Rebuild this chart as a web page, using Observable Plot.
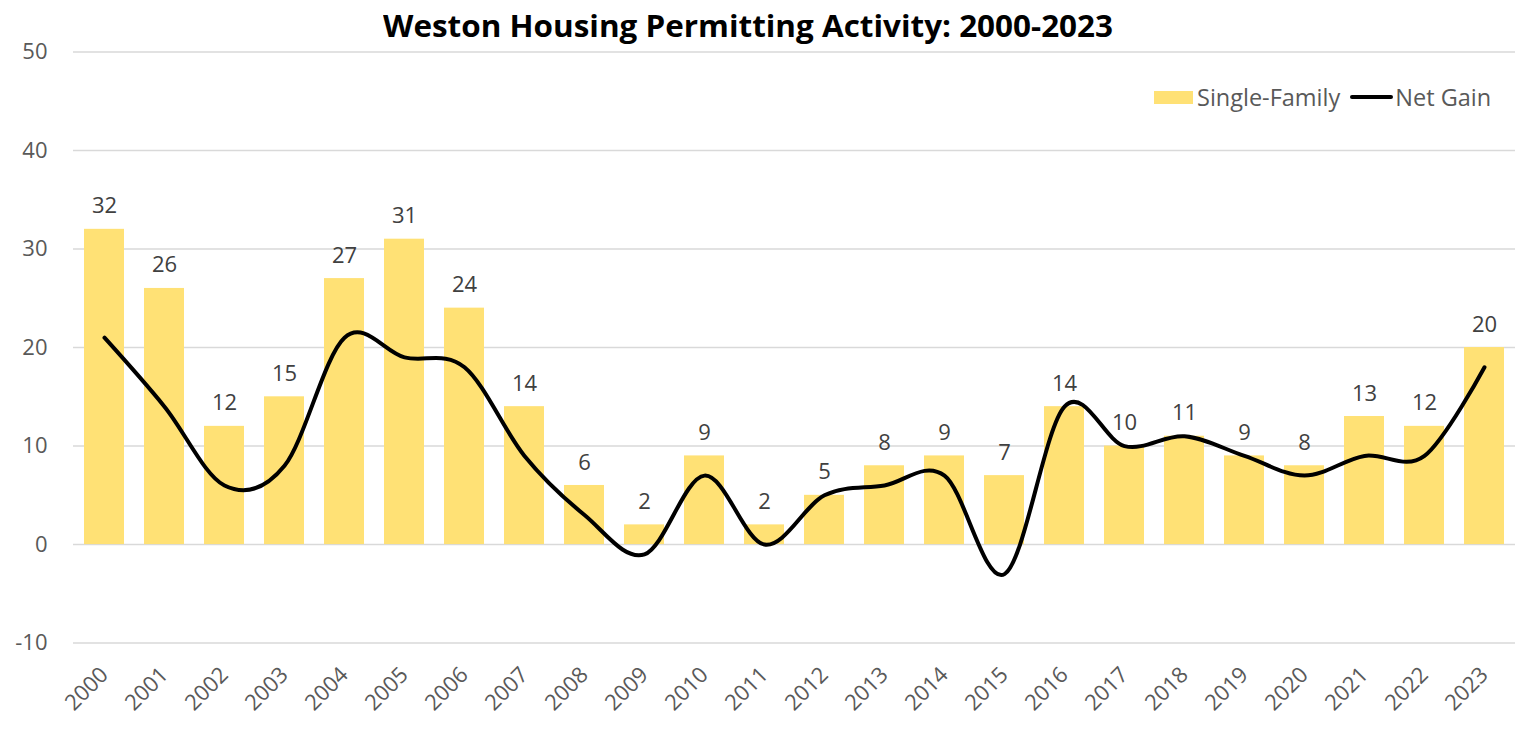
<!DOCTYPE html>
<html>
<head>
<meta charset="utf-8">
<script src="https://cdn.jsdelivr.net/npm/d3@7"></script>
<script src="https://cdn.jsdelivr.net/npm/@observablehq/plot@0.6"></script>
<style>
  html, body { margin: 0; padding: 0; background: #fff; }
  #wrap { position: relative; width: 1524px; height: 729px; font-family: "Open Sans", sans-serif; }
  #title { position: absolute; left: 0; top: 5px; width: 1496px; text-align: center; font-weight: 700; font-size: 31px; line-height: 40px; color: #000; white-space: nowrap; }
  #title span { display: inline-block; transform-origin: 50% 50%; }
  #legend { position: absolute; top: 83px; left: 1154px; height: 28px; display: flex; align-items: center; font-size: 23.5px; color: #595959; white-space: nowrap; }
  .sw { display: inline-block; width: 39px; height: 13px; background: #FFE175; margin-right: 4px; }
  .ln { display: inline-block; width: 43px; height: 4px; background: #000; border-radius: 2px; margin-left: 10px; margin-right: 2px; }
</style>
</head>
<body>
<div id="wrap">
  <div id="chart"></div>
  <div id="title"><span>Weston Housing Permitting Activity: 2000-2023</span></div>
  <div id="legend"><span class="sw"></span><span>Single-Family</span><span class="ln"></span><span>Net Gain</span></div>
</div>
<script>
const years = ["2000","2001","2002","2003","2004","2005","2006","2007","2008","2009","2010","2011","2012","2013","2014","2015","2016","2017","2018","2019","2020","2021","2022","2023"];
const singleFamily = [32,26,12,15,27,31,24,14,6,2,9,2,5,8,9,7,14,10,11,9,8,13,12,20];
const netGain = [21,14,6,8,21,19,18,9,3,-1,7,0,5,6,7,-3,14,10,11,9,7,9,9,18];
const yTicks = [-10,0,10,20,30,40,50];

const data = years.map((y, i) => ({year: y, sf: singleFamily[i], net: netGain[i]}));

const chart = Plot.plot({
  width: 1524,
  height: 729,
  marginTop: 51.5,
  marginBottom: 86.4,
  marginLeft: 73,
  marginRight: 9,
  style: {fontFamily: "'Open Sans', sans-serif", background: "#fff"},
  x: {type: "band", domain: years, paddingInner: 0.33, paddingOuter: 0.165, label: null},
  y: {domain: [-10, 50], label: null},
  marks: [
    Plot.gridY(yTicks, {stroke: "#d9d9d9", strokeOpacity: 1, strokeWidth: 1.5}),
    Plot.barY(data, {x: "year", y: "sf", fill: "#FFE175"}),
    Plot.line(data, {x: "year", y: "net", stroke: "#000", strokeWidth: 4, curve: "cardinal", tension: 0, strokeLinecap: "round", strokeLinejoin: "round"}),
    Plot.text(data, {x: "year", y: "sf", text: d => String(d.sf), dy: -23, lineAnchor: "middle", fontSize: 22, fill: "#404040"}),
    Plot.axisY(yTicks, {tickSize: 0, tickPadding: 26, fontSize: 22, fill: "#595959", label: null, tickFormat: d => String(d)}),
    Plot.axisX({tickSize: 0, tickRotate: -45, tickPadding: 28, fontSize: 22, fill: "#595959", label: null})
  ]
});
document.getElementById("chart").appendChild(chart);

// fit title to reference width
const t = document.querySelector("#title span");
const w = t.getBoundingClientRect().width;
t.style.transform = `scaleX(${730 / w})`;
</script>
</body>
</html>
